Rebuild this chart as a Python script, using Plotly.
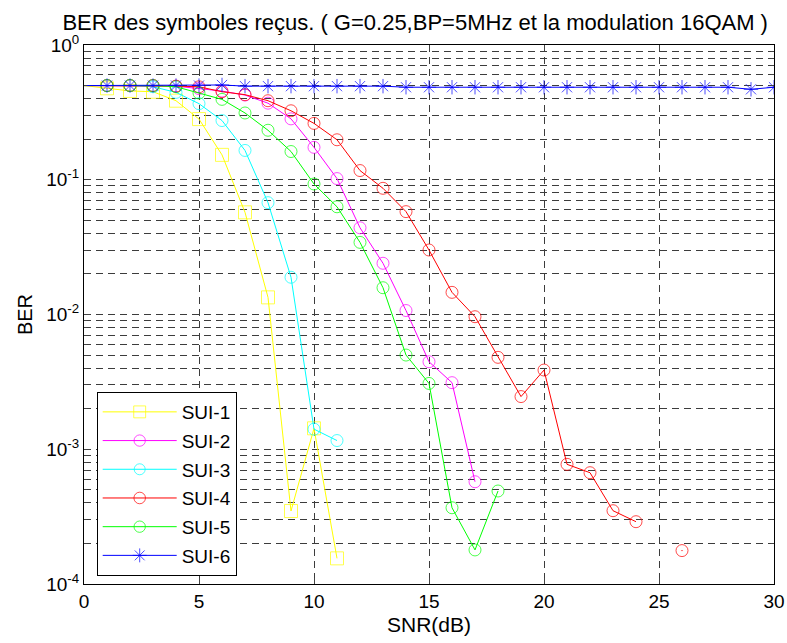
import plotly.graph_objects as go

snr = list(range(0, 31))

sui1 = [0.50, 0.477, 0.456, 0.45, 0.386, 0.282, 0.153, 0.0573, 0.0134, 3.48e-4, 1.43e-3, 1.55e-4]
sui2 = [0.50, 0.50, 0.50, 0.50, 0.495, 0.475, 0.455, 0.425, 0.37, 0.283, 0.174, 0.102,
        0.044, 0.024, 0.0107, 0.00446, 0.00312, 5.74e-4]
sui3 = [0.50, 0.50, 0.50, 0.49, 0.445, 0.367, 0.275, 0.165, 0.0676, 0.0189, 1.41e-3, 1.16e-3]
sui4 = [0.50, 0.50, 0.50, 0.50, 0.495, 0.49, 0.45, 0.428, 0.386, 0.325, 0.262, 0.198,
        0.117, 0.0864, 0.058, 0.0301, 0.0146, 0.00963, 0.00481, 0.00246, 0.00387,
        7.73e-4, 6.7e-4, 3.5e-4, 2.9e-4, None, 1.77e-4]
sui5 = [0.50, 0.50, 0.50, 0.50, 0.49, 0.44, 0.395, 0.313, 0.233, 0.162, 0.093, 0.063,
        0.0343, 0.0158, 0.0050, 0.00308, 3.68e-4, 1.79e-4, 4.9e-4]
sui6 = [0.50, 0.50, 0.50, 0.50, 0.50, 0.50, 0.505, 0.495, 0.495, 0.495, 0.495, 0.495,
        0.495, 0.495, 0.486, 0.486, 0.486, 0.486, 0.486, 0.486, 0.486, 0.486, 0.486,
        0.486, 0.486, 0.486, 0.486, 0.486, 0.486, 0.469, 0.486]

names = ["SUI-1", "SUI-2", "SUI-3", "SUI-4", "SUI-5", "SUI-6"]
colors = ["#FFFF00", "#FF00FF", "#00FFFF", "#FF0000", "#00FF00", "#0000FF"]
symbols = ["square-open", "circle-open", "circle-open", "circle-open", "circle-open", "asterisk-open"]
sizes = [13, 12, 12, 12, 12, 12]
series = [sui1, sui2, sui3, sui4, sui5, sui6]

ytickvals = [1, 0.1, 0.01, 0.001, 0.0001]
yticktext = ["10<sup>0</sup>", "10<sup>-1</sup>", "10<sup>-2</sup>", "10<sup>-3</sup>", "10<sup>-4</sup>"]
xtickvals = [0, 5, 10, 15, 20, 25, 30]

title_text = "BER des symboles reçus. ( G=0.25,BP=5MHz et la modulation 16QAM )"

fig = go.Figure()
for name, col, sym, sz, ys in zip(names, colors, symbols, sizes, series):
    xs = snr[:len(ys)]
    msize = []
    msym = []
    for i, v in enumerate(ys):
        # no marker drawn at SNR = 0 (start of the curve on the axis)
        msize.append(0 if i == 0 else sz)
        prev_none = i == 0 or ys[i - 1] is None
        next_none = i == len(ys) - 1 or ys[i + 1] is None
        if sym == "circle-open" and prev_none and next_none and i > 0:
            msym.append("circle-open-dot")
        else:
            msym.append(sym)
    fig.add_trace(go.Scatter(
        x=xs, y=ys, name=name, mode="lines+markers",
        legendgroup=name,
        line=dict(color=col, width=1),
        marker=dict(symbol=msym, size=msize, color=col, line=dict(color=col, width=1)),
    ))

grid_col = "#3c3c3c"
minor_vals = [k * 10 ** d for d in range(-4, 0) for k in range(2, 10)]

fig.update_layout(
    width=787, height=643,
    margin=dict(l=84, r=13, t=45, b=59, autoexpand=False),
    paper_bgcolor="white", plot_bgcolor="white",
    font=dict(family="Liberation Sans, Arial, sans-serif", color="black", size=19),
    title=dict(text=title_text, x=0.48, xref="paper", xanchor="center",
               y=1 - 22 / 643, yanchor="middle", font=dict(size=22, color="black")),
    showlegend=True,
    legend=dict(x=0.0184, y=0.0148, xanchor="left", yanchor="bottom",
                bgcolor="white", bordercolor="black", borderwidth=1,
                font=dict(size=19), itemwidth=74, tracegroupgap=1),
    xaxis=dict(range=[0, 30], tickvals=xtickvals, ticks="inside", ticklen=6,
               showline=True, linecolor="black", linewidth=1, mirror="allticks",
               showgrid=True, gridcolor=grid_col, griddash="7px,5px", gridwidth=1,
               automargin=False,
               zeroline=False, title=dict(text="SNR(dB)", font=dict(size=21), standoff=6)),
    yaxis=dict(type="log", range=[-4, 0], tickvals=ytickvals, ticktext=yticktext,
               ticks="inside", ticklen=6, automargin=False,
               showline=True, linecolor="black", linewidth=1, mirror="allticks",
               showgrid=True, gridcolor=grid_col, griddash="7px,5px", gridwidth=1,
               zeroline=False,
               minor=dict(tickvals=minor_vals, ticks="inside", ticklen=3, showgrid=True,
                          gridcolor=grid_col, griddash="7px,5px", gridwidth=1),
               title=dict(text="BER", font=dict(size=20), standoff=8)),
)

fig.write_html("out.html", config={"displayModeBar": False},
               post_script="document.body.style.margin='0';document.body.style.overflow='hidden';")
